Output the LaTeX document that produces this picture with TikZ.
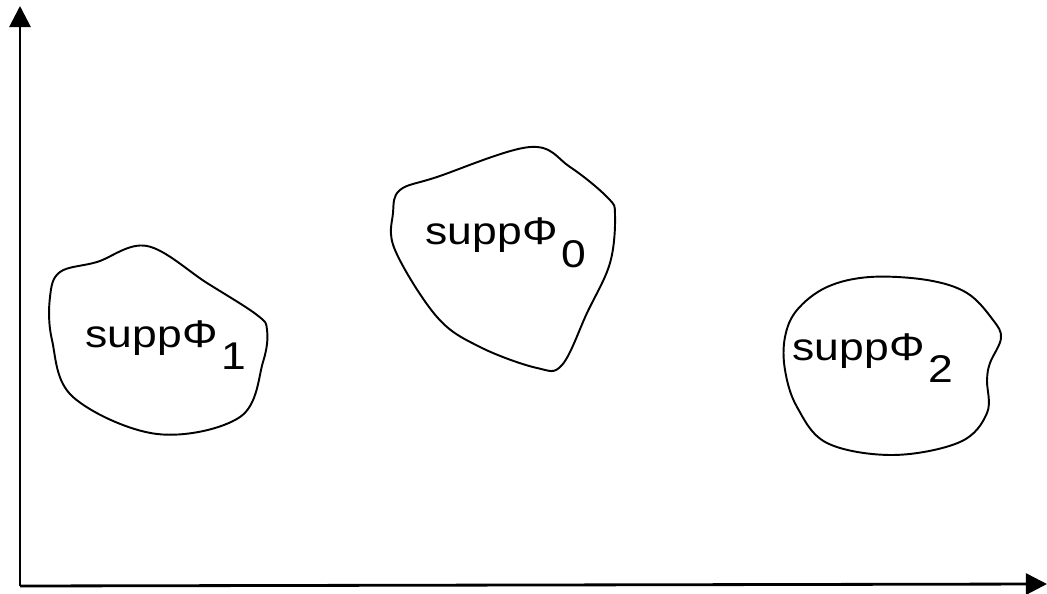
\documentclass[tikz,border=0pt]{standalone}
\usepackage{fontspec}
\setmainfont{Liberation Sans}
\usepackage{graphicx}
\usetikzlibrary{arrows.meta}

\newcommand{\supplbl}[1]{\scalebox{1.15}[1]{supp\kern0.5pt Φ\kern1.5pt\raisebox{-13pt}{#1}}}

\begin{document}
\begin{tikzpicture}[x=0.02cm, y=-0.02cm,
  axis/.style={line width=1.6pt, -{Triangle[length=12pt, width=12pt]}},
  blob/.style={line width=1.1pt, smooth cycle, tension=0.6},
  lbl/.style={anchor=base west, inner sep=0pt, font=\fontsize{22}{26}\selectfont},
]
\useasboundingbox (0,0) rectangle (1047,594);

% axes
\coordinate (o) at (20,586);
\coordinate (ytop) at (20,6);
\coordinate (xend) at (1047,584);
\draw[axis] (o) -- (ytop);
\draw[axis] (o) -- (xend);

% supports
\draw[blob] plot coordinates {(147,246) (207,283) (257,315) (267,330) (263,362)
  (240,417) (157,434) (73,397) (52,340) (50,297) (60,272) (97,262)};
\draw[blob] plot coordinates {(530,147) (570,167) (608,198) (615,215) (610,263)
  (587,313) (562,365) (537,368) (480,347) (437,317) (395,250) (393,213) (400,190) (437,177)};
\draw[blob] plot coordinates {(870,277) (927,280) (967,293) (993,320) (1001,338)
  (990,363) (987,380) (987,413) (960,442) (893,455) (827,443) (797,407)
  (785,370) (785,337) (797,310) (827,287)};

\node[lbl] (supp1) at (85,347) {\supplbl{1}};
\node[lbl] (supp0) at (425,245) {\supplbl{0}};
\node[lbl] (supp2) at (792,360) {\supplbl{2}};
\end{tikzpicture}
\end{document}
